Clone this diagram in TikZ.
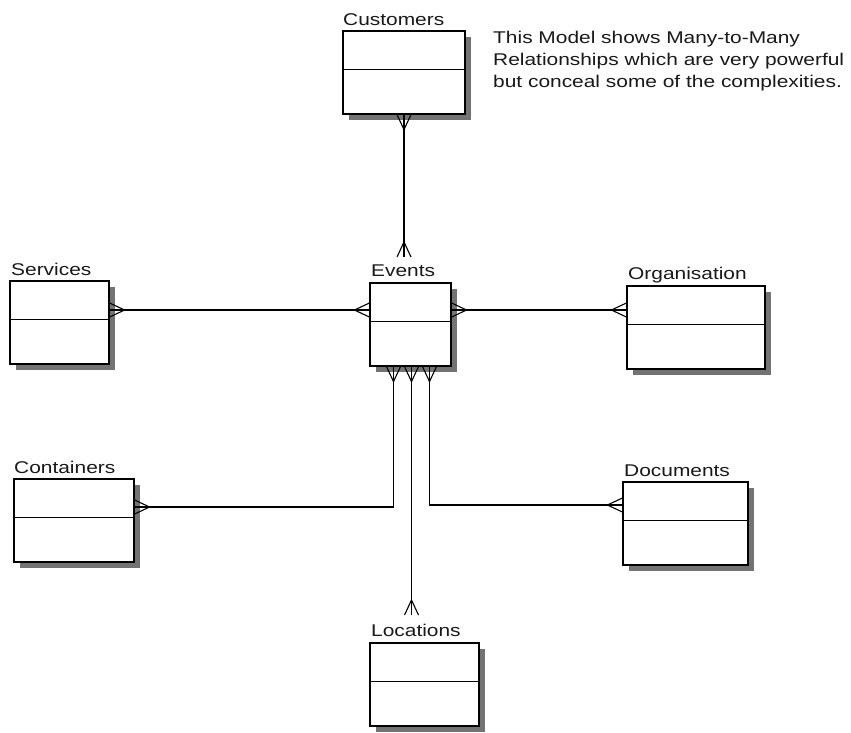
\documentclass[tikz,border=0pt]{standalone}
\usepackage{fontspec}
\setmainfont{Liberation Sans}
\usetikzlibrary{arrows.meta,shadows,calc}
\pgfdeclarearrow{
  name = Crow,
  parameters = {\the\pgfarrowlength,\the\pgfarrowwidth},
  setup code = {
    \pgfarrowssettipend{0pt}
    \pgfarrowssetlineend{0pt}
    \pgfarrowssetbackend{-\pgfarrowlength}
    \pgfarrowssetvisualbackend{-\pgfarrowlength}
    \pgfarrowshullpoint{0pt}{.5\pgfarrowwidth}
    \pgfarrowshullpoint{0pt}{-.5\pgfarrowwidth}
    \pgfarrowshullpoint{-\pgfarrowlength}{0pt}
    \pgfarrowssavethe\pgfarrowlength
    \pgfarrowssavethe\pgfarrowwidth
  },
  drawing code = {
    \pgfsetdash{}{0pt}
    \pgfpathmoveto{\pgfqpoint{0pt}{.5\pgfarrowwidth}}
    \pgfpathlineto{\pgfqpoint{-\pgfarrowlength}{0pt}}
    \pgfpathlineto{\pgfqpoint{0pt}{-.5\pgfarrowwidth}}
    \pgfusepathqstroke
  },
  defaults = {length = 15pt, width = 14pt}
}
\newcommand\sx[1]{\scalebox{1.23}[1]{#1}}
\begin{document}
\begin{tikzpicture}[x=1pt,y=-1pt,
  ent/.style={draw=black, fill=white, line width=1.2pt, rectangle, inner sep=0pt,
    minimum height=83pt,
    drop shadow={shadow xshift=6pt, shadow yshift=-6pt, fill=black!55, opacity=1}},
  lbl/.style={anchor=base west, inner sep=0pt, font=\fontsize{17}{20}\selectfont, text=black!90},
  rel/.style={line width=1.1pt, Crow-Crow}
]
\useasboundingbox[fill=white] (0,0) rectangle (851,732);

% entities
\node[ent, minimum width=122pt] (cust) at (404,72.5) {};
\node[ent, minimum width=81pt]  (evt)  at (410.5,324.5) {};
\node[ent, minimum width=99pt]  (serv) at (59.5,322.5) {};
\node[ent, minimum width=138pt] (org)  at (696,327.5) {};
\node[ent, minimum width=120pt] (cont) at (74,520.5) {};
\node[ent, minimum width=125pt] (docs) at (685.5,523.5) {};
\node[ent, minimum width=109pt] (loc)  at (424.5,684.5) {};

% dividers
\foreach \n in {cust,evt,serv,org,cont,docs,loc}{
  \draw[line width=1.2pt] ([yshift=-39pt]\n.north west) -- ([yshift=-39pt]\n.north east);
}

% labels
\node[lbl] (custL) at (343,25)  {\sx{Customers}};
\node[lbl] (evtL)  at (371,276) {\sx{Events}};
\node[lbl] (servL) at (11,275)  {\sx{Services}};
\node[lbl] (orgL)  at (628,279) {\sx{Organisation}};
\node[lbl] (contL) at (14,473)  {\sx{Containers}};
\node[lbl] (docsL) at (624,476) {\sx{Documents}};
\node[lbl] (locL)  at (371,636) {\sx{Locations}};

% note
\node[anchor=base west, inner sep=0pt, font=\fontsize{17}{21.8}\selectfont, text=black!90, align=left] (note) at (493,87)
  {\sx{This Model shows Many-to-Many}\\\sx{Relationships which are very powerful}\\\sx{but conceal some of the complexities.}};

% connector end points
\coordinate (custEnd) at (404,257);
\coordinate (locEnd)  at (411.5,615);
\coordinate (hy) at (0,310);

% relationships
\draw[rel] (cust.south) -- (custEnd);
\draw[rel] (serv.east |- hy) -- (evt.west |- hy);
\draw[rel] (evt.east |- hy) -- (org.west |- hy);
\draw[rel] ([xshift=-17pt]evt.south) |- ([yshift=13.5pt]cont.east);
\draw[rel] ([xshift=1pt]evt.south) -- (locEnd);
\draw[rel] ([xshift=19pt]evt.south) |- ([yshift=18.5pt]docs.west);
\end{tikzpicture}
\end{document}
